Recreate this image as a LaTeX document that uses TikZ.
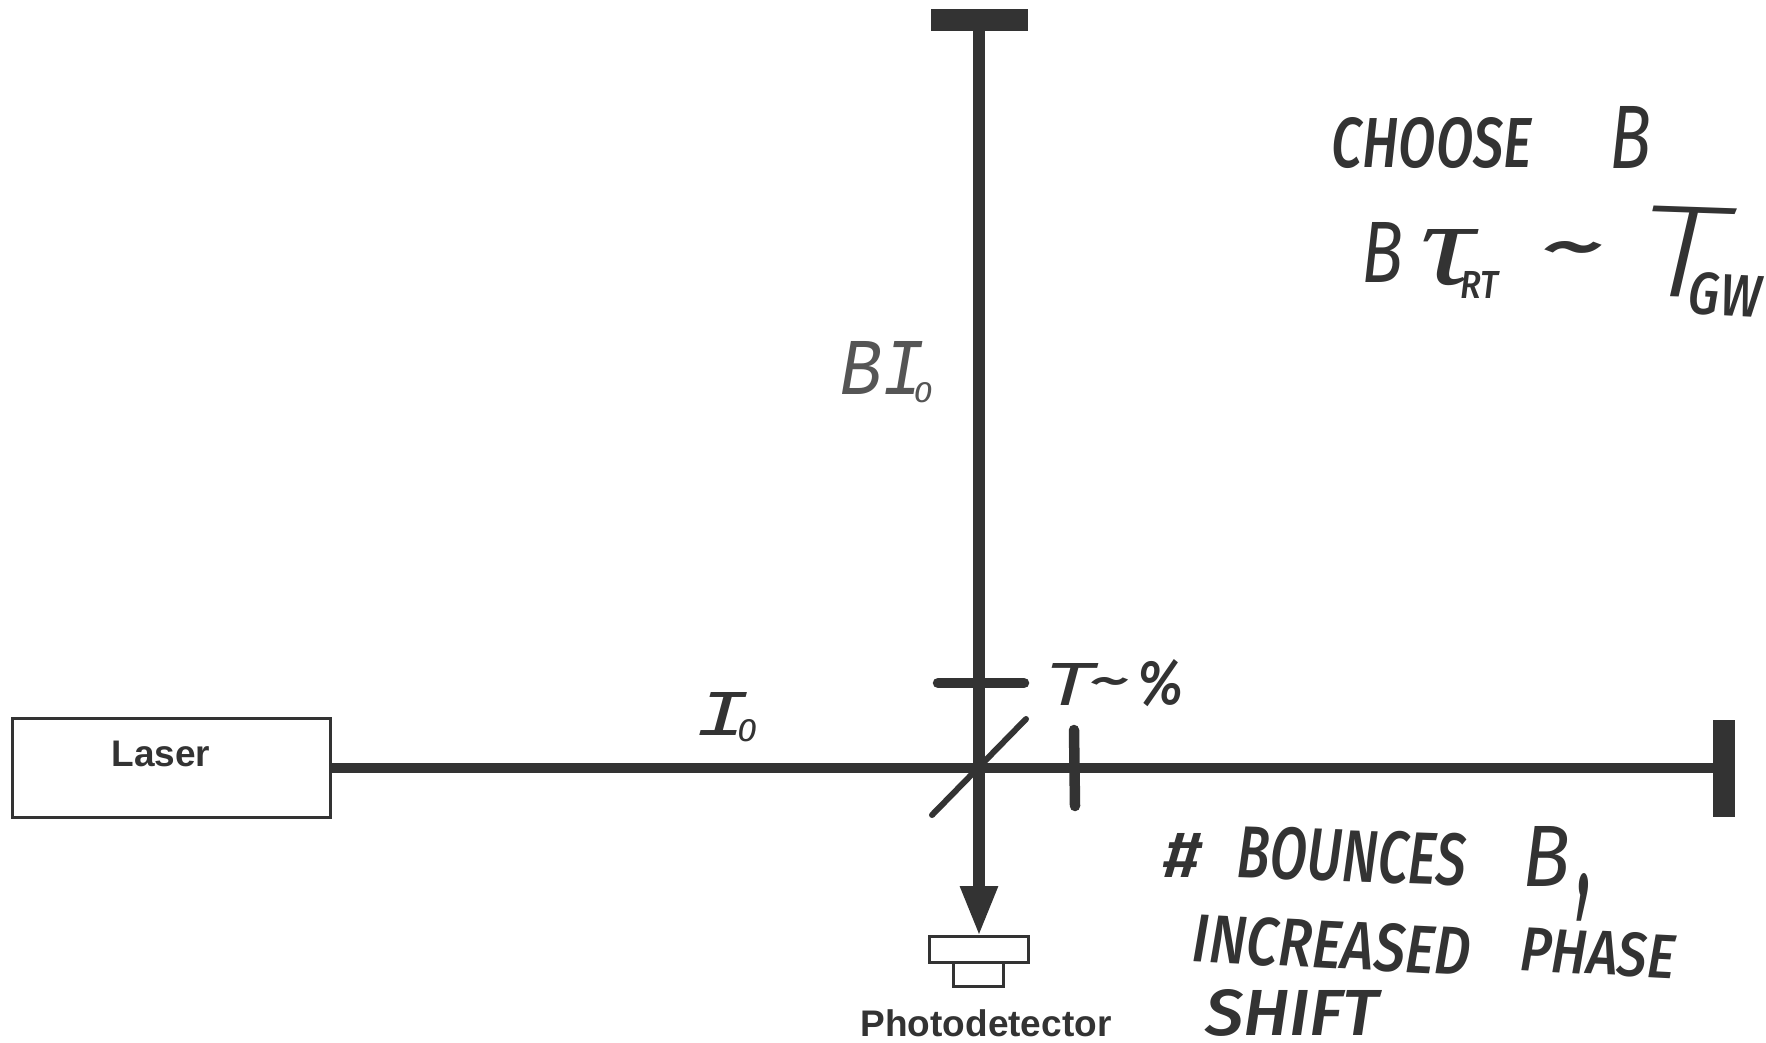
\documentclass[tikz,border=0pt]{standalone}
\usepackage{fontspec}
\usepackage{graphicx}
\usetikzlibrary{arrows.meta}
\setmainfont{Liberation Sans}
\newfontfamily\handfont{Fira Sans Medium}
\newfontfamily\lightfont{Fira Sans}
\newfontfamily\thinfont{Fira Sans ExtraLight}
\newfontfamily\penfont{Liberation Serif}
\newfontfamily\barfont{Liberation Mono}
\definecolor{ink}{HTML}{333333}
\definecolor{pencil}{HTML}{555555}
\tikzset{
  beamh/.style={draw=ink,line width=10pt},
  beamv/.style={draw=ink,line width=11.5pt},
  thinmirror/.style={draw=ink,line width=6pt,line cap=round},
  solidbar/.style={fill=ink,draw=none,inner sep=0pt,outer sep=0pt},
  softbar/.style={draw=ink,line width=10.5pt,line cap=round},
  outlinebox/.style={draw=ink,line width=3pt,fill=white,inner sep=0pt,outer sep=0pt},
  printed/.style={font=\fontsize{37}{37}\selectfont\bfseries,text=ink,inner sep=0pt},
  hand/.style={text=ink,inner sep=0pt,outer sep=0pt,anchor=center}
}
% name, centre x, centre y, width, height, angle, text
\newcommand{\hw}[7]{\node[hand,rotate=#6] (#1) at (#2,#3) {\resizebox{#4pt}{#5pt}{\handfont\itshape #7}};}
\newcommand{\lw}[7]{\node[hand,rotate=#6] (#1) at (#2,#3) {\resizebox{#4pt}{#5pt}{\lightfont\itshape #7}};}
\newcommand{\tw}[7]{\node[hand,rotate=#6] (#1) at (#2,#3) {\resizebox{#4pt}{#5pt}{\thinfont\itshape #7}};}
\newcommand{\pw}[7]{\node[hand,rotate=#6] (#1) at (#2,#3) {\resizebox{#4pt}{#5pt}{\penfont\itshape #7}};}
\newcommand{\bw}[7]{\node[hand,rotate=#6] (#1) at (#2,#3) {\resizebox{#4pt}{#5pt}{\barfont\itshape #7}};}
\begin{document}
\begin{tikzpicture}[x=1pt,y=-1pt]
\useasboundingbox (0,0) rectangle (1766,1042);
\fill[white] (0,0) rectangle (1766,1042);
% apparatus
\node[solidbar,minimum width=97pt,minimum height=22pt] (topmirror) at (979,20) {};
\node[solidbar,minimum width=22pt,minimum height=97pt] (endmirror) at (1724,768.5) {};
\node[outlinebox,minimum width=318pt,minimum height=99pt] (laser) at (171,767.5) {};
\node[outlinebox,minimum width=99pt,minimum height=26pt] (dettop) at (979,949) {};
\node[outlinebox,minimum width=50pt,minimum height=24pt] (detbase) at (978,974) {};
\node[printed] (laserlabel) at (161,754) {Laser};
\node[printed] (detlabel) at (986,1023) {Photodetector};
% beams
\coordinate (splitcentre) at (979,768);
\coordinate (splitlow) at (932,815);
\coordinate (splithigh) at (1026,719);
\draw[thinmirror] (splitlow) -- (splithigh);
\draw[beamh] (laser.east |- splitcentre) -- (endmirror.west |- splitcentre);
\draw[beamv,-{Triangle[length=50pt,width=35pt,inset=0pt]}] (topmirror.south) -- (dettop.north);
% cavity mirrors
\coordinate (inputleft) at (938,683);
\coordinate (inputright) at (1024,683);
\coordinate (armupper) at (1074,730);
\coordinate (armlower) at (1075,806);
\draw[softbar] (inputleft) -- (inputright);
\draw[softbar] (armupper) -- (armlower);
% handwriting
\hw{choose}{1432}{143}{200}{50}{0}{CHOOSE}
\lw{chooseb}{1630}{137}{42}{62}{0}{B}
\lw{bb}{1382}{252}{42}{60}{0}{B}
\pw{tau}{1447}{258}{54}{55}{0}{τ}
\hw{rt}{1479}{285}{38}{27}{0}{RT}
\hw{tilde}{1572}{256}{62}{30}{0}{\char"007E}
\tw{bigt}{1683}{252}{88}{90}{-2}{T}
\hw{gw}{1725}{295}{72}{42}{-3}{GW}
\hw{hash}{1182}{855}{38}{44}{0}{\#}
\hw{bounces}{1352}{856}{229}{52}{-2}{BOUNCES}
\lw{bouncesb}{1546}{856}{48}{60}{0}{B}
\hw{comma}{1585}{897}{14}{22}{0}{,}
\hw{increased}{1332}{945}{278}{48}{-3}{INCREASED}
\hw{phase}{1598}{953}{155}{44}{-3}{PHASE}
\hw{shift}{1292}{1013}{174}{46}{0}{SHIFT}
\bw{itt}{1069}{684}{52}{42}{0}{T}
\hw{ittilde}{1109}{687}{40}{20}{0}{\char"007E}
\hw{pct}{1160}{683}{46}{45}{0}{\%}
\bw{io}{722}{714}{54}{43}{0}{I}
\lw{iosub}{747}{731}{20}{22}{0}{0}
\begin{scope}[hand/.append style={text=pencil}]
\bw{bio}{882}{368}{84}{53}{0}{BI}
\lw{biosub}{923}{393}{19}{20}{0}{0}
\end{scope}
\end{tikzpicture}
\end{document}
